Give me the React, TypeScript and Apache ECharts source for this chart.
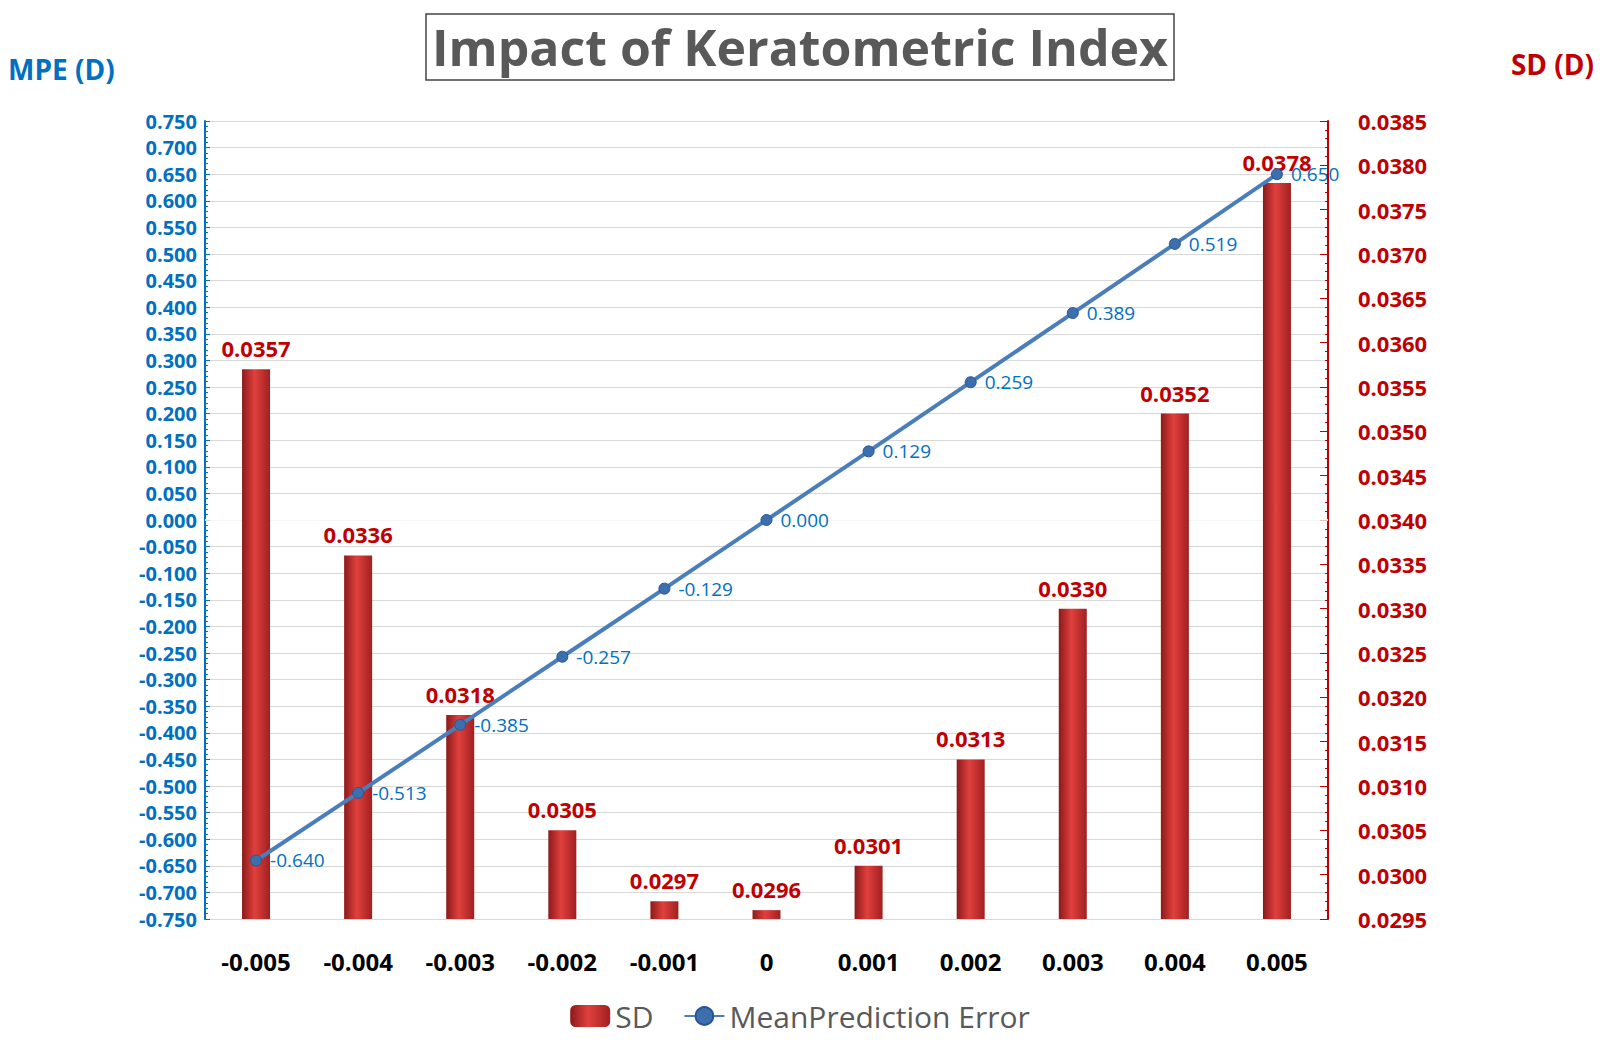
import React, { useEffect, useRef } from 'react';
import * as echarts from 'echarts';

const categories = ['-0.005', '-0.004', '-0.003', '-0.002', '-0.001', '0', '0.001', '0.002', '0.003', '0.004', '0.005'];
const sdValues = [0.0357, 0.0336, 0.0318, 0.0305, 0.0297, 0.0296, 0.0301, 0.0313, 0.033, 0.0352, 0.0378];
const mpeValues = [-0.64, -0.513, -0.385, -0.257, -0.129, 0.0, 0.129, 0.259, 0.389, 0.519, 0.65];

const BLUE = '#0070C0';
const RED = '#C00000';

const App: React.FC = () => {
  const chartRef = useRef<HTMLDivElement>(null);

  useEffect(() => {
    document.body.style.margin = '0';
    if (!chartRef.current) return;
    const chart = echarts.init(chartRef.current, undefined, { renderer: 'svg' });
    chart.setOption({
      animation: false,
      textStyle: { fontFamily: 'Open Sans' },
      title: {
        text: 'Impact of Keratometric Index',
        left: 'center',
        top: 14,
        padding: [8, 6, 8, 6],
        borderColor: '#444',
        borderWidth: 1.5,
        textStyle: { fontSize: 50, fontWeight: 'bold', color: '#595959', fontFamily: 'Open Sans' },
      },
      graphic: [
        { type: 'text', left: 8, top: 55, style: { text: 'MPE (D)', fill: BLUE, font: 'bold 28px Open Sans' } },
        { type: 'text', right: 6, top: 50, style: { text: 'SD (D)', fill: RED, font: 'bold 28px Open Sans' } },
      ],
      legend: {
        bottom: 20,
        left: 'center',
        itemWidth: 40,
        itemHeight: 22,
        itemGap: 30,
        textStyle: { fontSize: 30, color: '#595959' },
        data: ['SD', 'MeanPrediction Error'],
      },
      grid: { left: 205, right: 272, top: 121, bottom: 137 },
      xAxis: {
        type: 'category',
        data: categories,
        axisLine: { show: false },
        axisTick: { show: false },
        axisLabel: { fontSize: 24, fontWeight: 'bold', color: '#000', margin: 30 },
      },
      yAxis: [
        {
          type: 'value',
          min: -0.75,
          max: 0.75,
          interval: 0.05,
          axisLine: { show: true, lineStyle: { color: BLUE, width: 2 } },
          axisTick: { show: true, inside: true, lineStyle: { color: BLUE } },
          minorTick: { show: true, splitNumber: 5, lineStyle: { color: BLUE } },
          axisLabel: { color: BLUE, fontWeight: 'bold', fontSize: 20, formatter: (v: number) => v.toFixed(3) },
          splitLine: { show: true, lineStyle: { color: '#d9d9d9' } },
        },
        {
          type: 'value',
          min: 0.0295,
          max: 0.0385,
          interval: 0.0005,
          position: 'right',
          axisLine: { show: true, lineStyle: { color: RED, width: 2 } },
          axisTick: { show: true, inside: true, length: 8, lineStyle: { color: RED } },
          minorTick: { show: true, splitNumber: 5, lineStyle: { color: RED } },
          axisLabel: { color: RED, fontWeight: 'bold', fontSize: 22, margin: 30, formatter: (v: number) => v.toFixed(4) },
          splitLine: { show: false },
        },
      ],
      series: [
        {
          name: 'SD',
          type: 'bar',
          yAxisIndex: 1,
          data: sdValues,
          barWidth: 28,
          itemStyle: {
            color: new echarts.graphic.LinearGradient(0, 0, 1, 0, [
              { offset: 0, color: '#8b1a1a' },
              { offset: 0.45, color: '#e0403d' },
              { offset: 1, color: '#a02020' },
            ]),
          },
          label: {
            show: true,
            position: 'top',
            distance: 10,
            color: RED,
            fontWeight: 'bold',
            fontSize: 22,
            formatter: (p: any) => p.value.toFixed(4),
          },
        },
        {
          name: 'MeanPrediction Error',
          type: 'line',
          yAxisIndex: 0,
          data: mpeValues,
          symbol: 'circle',
          symbolSize: 11,
          lineStyle: { color: '#4a7ebb', width: 4 },
          itemStyle: { color: '#3c6fae', borderColor: '#2a5590', borderWidth: 1 },
          label: {
            show: true,
            position: 'right',
            distance: 8,
            color: BLUE,
            fontSize: 19,
            formatter: (p: any) => p.value.toFixed(3),
          },
          markLine: {
            silent: true,
            symbol: 'none',
            label: { show: false },
            lineStyle: { color: '#fff', width: 1.5, type: 'solid' },
            data: [{ yAxis: 0 }],
            z: 1,
          },
          z: 3,
        },
      ],
    });
    return () => chart.dispose();
  }, []);

  return <div ref={chartRef} style={{ width: 1600, height: 1056 }} />;
};

export default App;
